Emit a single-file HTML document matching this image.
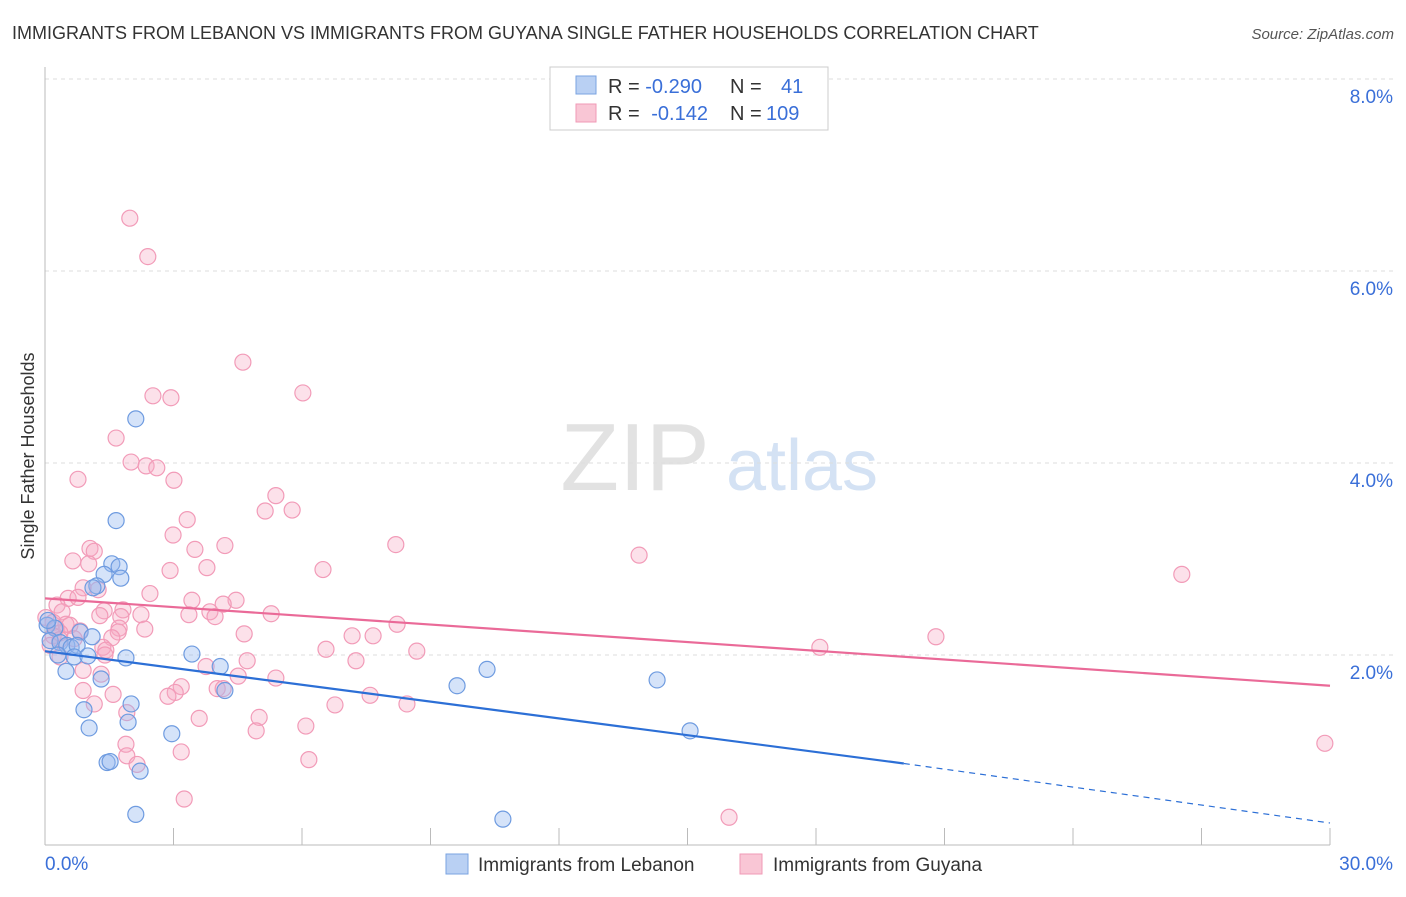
<!DOCTYPE html>
<html><head><meta charset="utf-8"><style>
body{margin:0;background:#fff;font-family:"Liberation Sans",sans-serif;}
svg text{font-family:"Liberation Sans",sans-serif;}
</style></head><body>
<svg id="chart" width="1406" height="892" viewBox="0 0 1406 892">
<text x="12" y="39" font-size="18" fill="#333">IMMIGRANTS FROM LEBANON VS IMMIGRANTS FROM GUYANA SINGLE FATHER HOUSEHOLDS CORRELATION CHART</text>
<text x="1394" y="39" font-size="15" fill="#555" font-style="italic" text-anchor="end">Source: ZipAtlas.com</text>
<g>
<text x="635" y="490" font-size="96" font-family="Liberation Serif" fill="#e2e2e2" text-anchor="middle">ZIP</text>
<text x="802" y="490" font-size="72" fill="#d4e2f4" text-anchor="middle">atlas</text>
</g>
<g id="grid"></g>
<g id="axes"></g>
<g id="points"></g>
<g id="lines"></g>
<text transform="translate(34,456) rotate(-90)" font-size="18" fill="#333" text-anchor="middle">Single Father Households</text>
<g>
<rect x="550" y="67" width="278" height="63" fill="#fff" stroke="#ccc"/>
<rect x="576" y="76" width="20" height="18" fill="#b9d0f3" stroke="#7aa3e0"/>
<rect x="576" y="104" width="20" height="18" fill="#f9c6d5" stroke="#f09ab6"/>
<text x="608" y="93" font-size="20" fill="#333">R = <tspan fill="#3a6fd8">-0.290</tspan></text>
<text x="730" y="93" font-size="20" fill="#333">N = </text>
<text x="781" y="93" font-size="20" fill="#3a6fd8">41</text>
<text x="608" y="120" font-size="20" fill="#333">R = <tspan fill="#3a6fd8" dx="6">-0.142</tspan></text>
<text x="730" y="120" font-size="20" fill="#333">N = </text>
<text x="766" y="120" font-size="20" fill="#3a6fd8">109</text>
</g>
<g>
<rect x="446" y="854" width="22" height="20" fill="#b9d0f3" stroke="#7aa3e0"/>
<text x="478" y="871" font-size="19" fill="#333">Immigrants from Lebanon</text>
<rect x="740" y="854" width="22" height="20" fill="#f9c6d5" stroke="#f09ab6"/>
<text x="773" y="871" font-size="19" fill="#333">Immigrants from Guyana</text>
</g>
</svg>
<script>
const xTicks=[0,3,6,9,12,15,18,21,24,27,30];
const yTicks=[2,4,6,8];
const yTickLabels=["2.0%","4.0%","6.0%","8.0%"];
const xEndLabels=["0.0%","30.0%"];
const lebX=[2.12,1.66,1.56,1.73,1.38,1.77,1.21,1.12,0.05,0.23,0.82,1.10,0.12,0.35,0.51,0.61,0.75,0.30,0.68,1.00,1.89,3.43,4.09,0.49,1.31,4.20,9.62,10.32,14.29,2.01,0.91,1.03,1.94,2.96,15.06,1.45,1.52,2.22,2.12,10.69,0.07];
const lebY=[4.46,3.40,2.95,2.92,2.84,2.80,2.72,2.70,2.31,2.28,2.24,2.19,2.15,2.13,2.10,2.08,2.10,2.00,1.98,1.99,1.97,2.01,1.88,1.83,1.75,1.63,1.68,1.85,1.74,1.49,1.43,1.24,1.30,1.18,1.21,0.88,0.89,0.79,0.34,0.29,2.36];
const guyX=[1.98,2.40,4.62,6.02,2.52,2.94,1.66,2.01,2.36,2.61,0.77,3.01,5.39,5.14,5.77,3.32,2.99,4.20,8.19,3.50,1.05,1.15,13.87,0.65,1.02,3.78,6.49,2.92,26.54,0.89,1.24,2.45,0.54,0.77,3.43,4.46,4.16,0.28,0.40,1.38,1.82,3.85,1.28,2.24,1.77,3.36,5.28,3.97,0.02,0.19,0.49,0.58,0.26,8.22,1.73,2.33,0.82,0.35,1.71,0.19,4.65,7.17,7.66,20.80,1.56,0.35,0.68,0.12,1.35,1.42,18.09,6.56,8.68,1.40,0.35,4.72,7.26,3.76,0.89,4.51,5.39,1.31,3.18,3.04,4.02,0.89,1.59,2.87,7.59,4.16,6.77,8.45,1.15,1.91,3.60,5.00,6.09,4.93,1.89,29.88,3.18,1.91,2.15,6.16,3.25,15.97];
const guyY=[6.55,6.15,5.05,4.73,4.70,4.68,4.26,4.01,3.97,3.95,3.83,3.82,3.66,3.50,3.51,3.41,3.25,3.14,3.15,3.10,3.11,3.08,3.04,2.98,2.95,2.91,2.89,2.88,2.84,2.70,2.68,2.64,2.59,2.60,2.57,2.57,2.53,2.52,2.45,2.46,2.47,2.45,2.41,2.42,2.40,2.42,2.43,2.40,2.39,2.34,2.32,2.31,2.28,2.32,2.28,2.27,2.25,2.23,2.24,2.20,2.22,2.20,2.20,2.19,2.18,2.16,2.17,2.10,2.08,2.05,2.08,2.06,2.04,2.00,1.98,1.94,1.94,1.88,1.84,1.78,1.76,1.80,1.67,1.61,1.65,1.63,1.59,1.57,1.58,1.65,1.48,1.49,1.49,1.40,1.34,1.35,1.26,1.21,1.07,1.08,0.99,0.95,0.86,0.91,0.50,0.31];
const lebLine=[2.04,0.87,0.25]; // at x=0, 20.05 (solid end), 30
const lebSolidEnd=20.05;
const guyLine=[2.59,1.68]; // at x=0 and x=30
const NS="http://www.w3.org/2000/svg";
const X=v=>45+v*(1285/30);
const Y=v=>847-v*96;
function mk(tag,attrs,parent){const e=document.createElementNS(NS,tag);for(const k in attrs)e.setAttribute(k,attrs[k]);parent.appendChild(e);return e;}
const grid=document.getElementById('grid'),axes=document.getElementById('axes'),pts=document.getElementById('points'),lines=document.getElementById('lines');
yTicks.forEach((t,i)=>{
 const l=mk('line',{x1:45,x2:1395,y1:Y(t),y2:Y(t),stroke:'#ddd','stroke-dasharray':'4,4'},grid);
 
 
 const tx=mk('text',{x:1393,y:Y(t)+24,'font-size':19,fill:'#3a6fd8','text-anchor':'end'},axes);
 tx.textContent=yTickLabels[i];
 
 
});
const ax=mk('line',{x1:45,x2:45,y1:67,y2:845,stroke:'#bbb'},axes);


const bx=mk('line',{x1:45,x2:1330,y1:845,y2:845,stroke:'#bbb'},axes);


xTicks.forEach(t=>{
 const l=mk('line',{x1:X(t),x2:X(t),y1:828,y2:845,stroke:'#bbb'},axes);
 
 
});
[[0,45,'start'],[30,1393,'end']].forEach((d,i)=>{
 const tx=mk('text',{x:d[1],y:870,'font-size':19,fill:'#3a6fd8','text-anchor':d[2]},axes);
 tx.textContent=xEndLabels[i];
 
 
});
guyX.forEach((x,i)=>{
 const c=mk('circle',{cx:X(x),cy:Y(guyY[i]),r:8,fill:'rgba(246,170,196,0.35)',stroke:'#f29bb8','stroke-width':1.2},pts);
 
 
});
lebX.forEach((x,i)=>{
 const c=mk('circle',{cx:X(x),cy:Y(lebY[i]),r:8,fill:'rgba(150,185,240,0.4)',stroke:'#6e9be0','stroke-width':1.2},pts);
 
 
});
const g=mk('line',{x1:X(0),y1:Y(guyLine[0]),x2:X(30),y2:Y(guyLine[1]),stroke:'#ea6a98','stroke-width':2.2},lines);


const b=mk('line',{x1:X(0),y1:Y(lebLine[0]),x2:X(lebSolidEnd),y2:Y(lebLine[1]),stroke:'#2c6fd6','stroke-width':2.2},lines);


const bd=mk('line',{x1:X(lebSolidEnd),y1:Y(lebLine[1]),x2:X(30),y2:Y(lebLine[2]),stroke:'#2c6fd6','stroke-width':1.2,'stroke-dasharray':'6,5'},lines);


</script>
</body></html>
